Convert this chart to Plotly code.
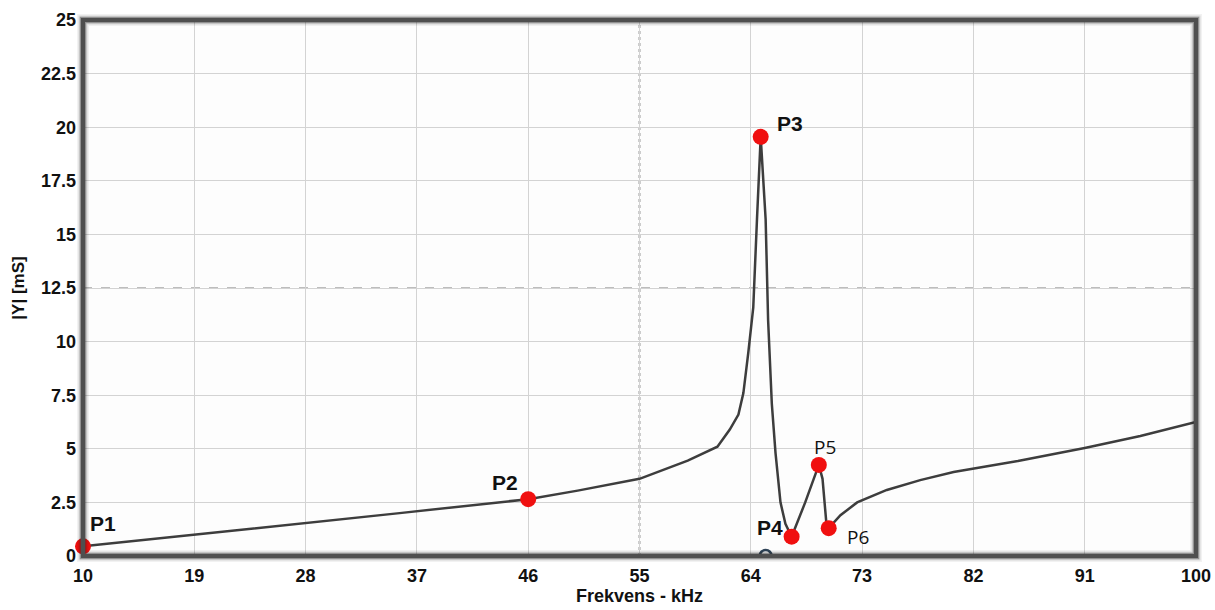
import plotly.graph_objects as go

# Admittance magnitude |Y| versus frequency, sampled along the measured sweep
freq_khz = [10, 19, 28, 35.6, 46, 50, 55, 58.9, 61.3, 62.3, 63.0, 63.4, 63.8,
            64.2, 64.5, 64.8, 65.2, 65.4, 65.7, 66.0, 66.4, 66.8, 67.3, 68.4,
            69.5, 69.8, 70.1, 70.3, 71.25, 72.6, 75.0, 77.7, 80.4, 83.1, 85.6,
            91, 95.5, 100]
admittance_ms = [0.45, 0.99, 1.55, 2.0, 2.65, 3.05, 3.6, 4.45, 5.1, 5.9, 6.6,
                 7.6, 9.5, 11.6, 15.7, 19.55, 15.7, 11.0, 7.1, 4.8, 2.5, 1.5,
                 0.9, 2.5, 4.25, 3.6, 1.6, 1.3, 1.9, 2.5, 3.08, 3.54, 3.92,
                 4.17, 4.43, 5.04, 5.6, 6.25]

# Characteristic points on the curve
point_names = ["P1", "P2", "P3", "P4", "P5", "P6"]
point_freq = [10, 46, 64.8, 67.3, 69.5, 70.3]
point_y = [0.45, 2.65, 19.55, 0.9, 4.25, 1.3]

x_ticks = [10, 19, 28, 37, 46, 55, 64, 73, 82, 91, 100]
y_ticks = [0, 2.5, 5, 7.5, 10, 12.5, 15, 17.5, 20, 22.5, 25]
y_tick_text = ["0", "2.5", "5", "7.5", "10", "12.5", "15", "17.5", "20", "22.5", "25"]

fig = go.Figure()

fig.add_trace(go.Scatter(
    x=freq_khz, y=admittance_ms, mode="lines",
    line=dict(color="#3d3d3d", width=2.5),
    hoverinfo="skip", showlegend=False,
))

# small probe marker sitting on the lower frame edge
fig.add_trace(go.Scatter(
    x=[65.2], y=[0], mode="markers",
    marker=dict(symbol="circle-open", size=12, color="#2f4458",
                line=dict(width=2.5, color="#2f4458")),
    cliponaxis=True, hoverinfo="skip", showlegend=False,
))

fig.add_trace(go.Scatter(
    x=point_freq, y=point_y, mode="markers",
    marker=dict(size=16, color="#f01010", line=dict(width=0)),
    cliponaxis=False, hoverinfo="skip", showlegend=False,
))

# label offsets (pixels) for each characteristic point
label_shift = {
    "P1": (20, 23, True), "P2": (-23, 17, True), "P3": (29, 13, True),
    "P4": (-22, 9, True), "P5": (6, 18, False), "P6": (29, -9, False),
}
for name, fx, fy in zip(point_names, point_freq, point_y):
    dx, dy, bold = label_shift[name]
    fig.add_annotation(
        x=fx, y=fy, text=name, showarrow=False,
        xshift=dx, yshift=dy,
        font=dict(family="Liberation Sans" if bold else "Open Sans",
                  size=21 if bold else 19, color="#111111",
                  weight="bold" if bold else "normal"),
    )

# dotted centre lines of the graticule
fig.add_shape(type="line", xref="x", yref="paper", x0=55, x1=55, y0=0, y1=1,
              line=dict(color="#ffffff", width=2), layer="below")
fig.add_shape(type="line", xref="x", yref="paper", x0=55, x1=55, y0=0, y1=1,
              line=dict(color="#9a9a9a", width=2, dash="dot"), layer="below")
fig.add_shape(type="line", xref="paper", yref="y", x0=0, x1=1, y0=12.5, y1=12.5,
              line=dict(color="#ffffff", width=2), layer="below")
fig.add_shape(type="line", xref="paper", yref="y", x0=0, x1=1, y0=12.5, y1=12.5,
              line=dict(color="#a8a8a8", width=1.5, dash="dash"), layer="below")

# frame with a soft shadow
for w, c in [(12, "rgba(0,0,0,0.05)"), (9, "rgba(0,0,0,0.10)"),
             (6.5, "rgba(60,60,60,0.45)"), (4, "#4f4f4f")]:
    fig.add_shape(type="rect", xref="paper", yref="paper", x0=0, x1=1, y0=0, y1=1,
                  line=dict(color=c, width=w), layer="above")

tick_font = dict(family="Liberation Sans", size=18, color="#111111", weight="bold")

fig.update_layout(
    width=1215, height=610,
    margin=dict(l=83, r=19, t=20, b=54),
    paper_bgcolor="#ffffff",
    plot_bgcolor="#fdfdfd",
    xaxis=dict(
        range=[10, 100], tickvals=x_ticks, ticktext=[str(v) for v in x_ticks],
        showgrid=True, gridcolor="#d3d3d3", gridwidth=1,
        zeroline=False, showline=False, ticks="", automargin=False,
        tickfont=tick_font, ticklabelstandoff=7,
        title=dict(text="Frekvens - kHz", standoff=2,
                   font=dict(family="Liberation Sans", size=18, color="#111111",
                             weight="bold")),
    ),
    yaxis=dict(
        range=[0, 25], tickvals=y_ticks, ticktext=y_tick_text,
        showgrid=True, gridcolor="#d3d3d3", gridwidth=1,
        zeroline=False, showline=False, ticks="", automargin=False,
        tickfont=tick_font, ticklabelstandoff=6,
        title=dict(text="|Y| [mS]", standoff=12,
                   font=dict(family="Liberation Sans", size=17, color="#111111",
                             weight="bold")),
    ),
)

fig.write_html("out.html")
